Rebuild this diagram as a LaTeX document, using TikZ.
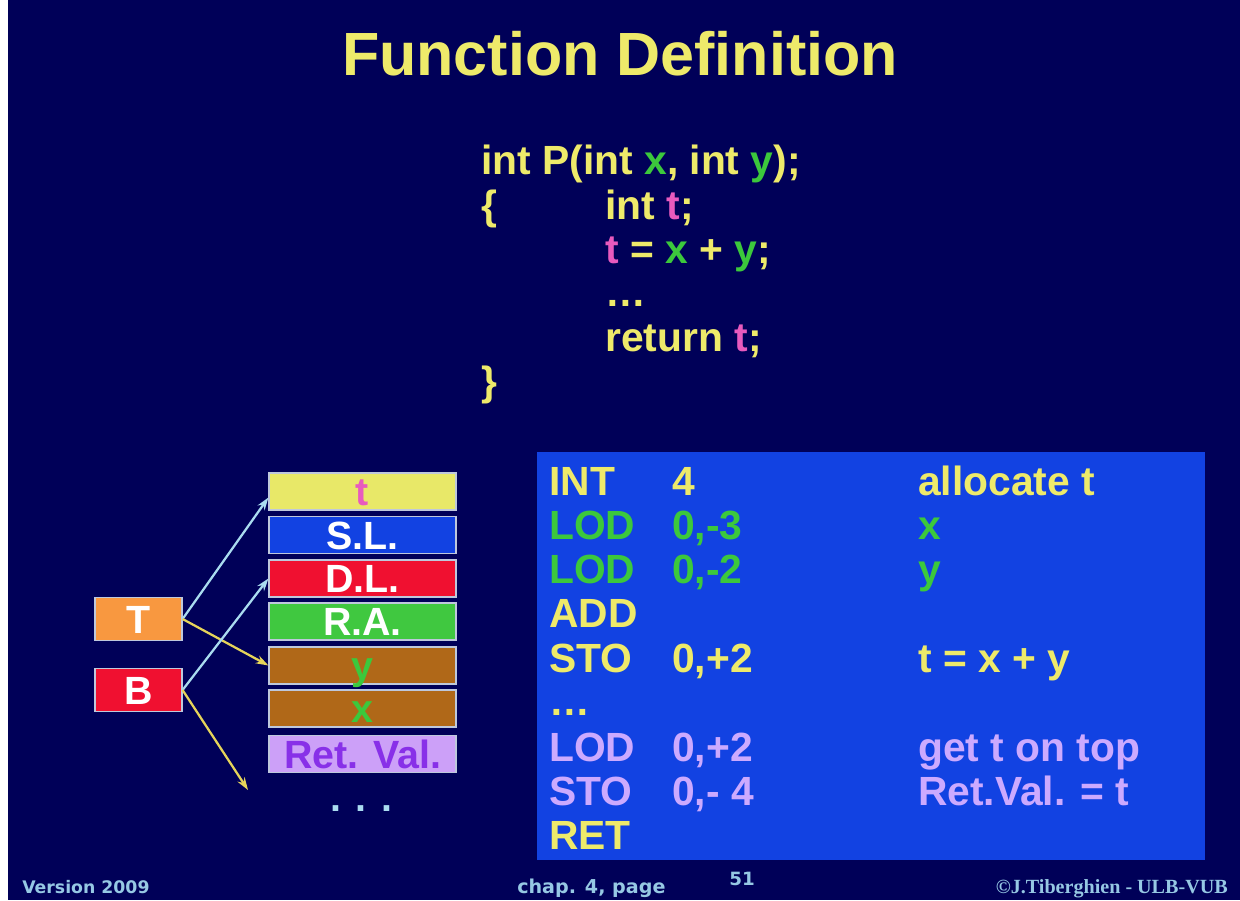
\documentclass[tikz,border=0pt]{standalone}
\usepackage{fontspec}
\setmainfont{Liberation Sans}
\newfontfamily\footsans{DejaVu Sans}
\newfontfamily\footserif{Liberation Serif}
\usetikzlibrary{arrows.meta}

\definecolor{navy}{RGB}{0,0,88}
\definecolor{ytext}{RGB}{238,234,106}
\definecolor{gtext}{RGB}{60,200,60}
\definecolor{ptext}{RGB}{232,90,190}
\definecolor{ltext}{RGB}{204,170,255}
\definecolor{boxblue}{RGB}{18,66,226}
\definecolor{cellyellow}{RGB}{232,232,104}
\definecolor{cellred}{RGB}{240,16,48}
\definecolor{cellgreen}{RGB}{64,200,64}
\definecolor{cellbrown}{RGB}{176,104,24}
\definecolor{celllav}{RGB}{204,160,248}
\definecolor{purpletext}{RGB}{136,48,232}
\definecolor{cellorange}{RGB}{248,152,64}
\definecolor{cellline}{RGB}{190,200,220}
\definecolor{ptrblue}{RGB}{170,220,240}
\definecolor{ptryellow}{RGB}{230,212,90}
\definecolor{foot}{RGB}{150,200,228}

\begin{document}
\begin{tikzpicture}[x=0.025cm,y=-0.025cm,
  code/.style={inner sep=0pt, anchor=base west, text=ytext,
    font=\bfseries\fontsize{29}{34}\selectfont},
  cell/.style={draw=cellline, line width=0.8pt, inner sep=0pt,
    minimum width=4.675cm, minimum height=0.925cm,
    text height=20pt, text depth=0pt,
    font=\bfseries\fontsize{28}{32}\selectfont},
  reg/.style={cell, minimum width=2.175cm, minimum height=1.075cm, text=white},
  ptr/.style={line width=1.6pt, -{Stealth[length=9pt,width=6pt]}},
  foottext/.style={inner sep=0pt, text=foot}
]
\useasboundingbox (0,0) rectangle (1240,900);
\fill[navy] (0,0) rectangle (1240,900);
\fill[white] (0,0) rectangle (8,900);

% title
\node[inner sep=0pt, anchor=base, text=ytext,
  font=\bfseries\fontsize{43.4}{50}\selectfont] (title) at (620,75) {Function Definition};

% C source of the function
\node[code] (c1) at (481,174) {int P(int {\color{gtext}x}, int {\color{gtext}y});};
\node[code] (c2a) at (481,219) {\{};
\node[code] (c2) at (605,219) {int {\color{ptext}t};};
\node[code] (c3) at (605,263) {{\color{ptext}t} = {\color{gtext}x} + {\color{gtext}y};};
\node[code] (c4) at (605,306) {\dots};
\node[code] (c5) at (605,351) {return {\color{ptext}t};};
\node[code] (c6) at (481,395) {\}};

% generated P-code
\fill[boxblue] (537,452) rectangle (1205,860);
\node[code] (i1) at (549,495) {INT};
\node[code] (a1) at (672,495) {4};
\node[code] (m1) at (918,495) {allocate t};
\node[code, text=gtext] (i2) at (549,539) {LOD};
\node[code, text=gtext] (a2) at (672,539) {0,-3};
\node[code, text=gtext] (m2) at (918,539) {x};
\node[code, text=gtext] (i3) at (549,583) {LOD};
\node[code, text=gtext] (a3) at (672,583) {0,-2};
\node[code, text=gtext] (m3) at (918,583) {y};
\node[code] (i4) at (549,627) {ADD};
\node[code] (i5) at (549,672) {STO};
\node[code] (a5) at (672,672) {0,+2};
\node[code] (m5) at (918,672) {t = x + y};
\node[code] (i6) at (549,715) {\dots};
\node[code, text=ltext] (i7) at (549,761) {LOD};
\node[code, text=ltext] (a7) at (672,761) {0,+2};
\node[code, text=ltext] (m7) at (918,761) {get t on top};
\node[code, text=ltext] (i8) at (549,805) {STO};
\node[code, text=ltext] (a8) at (672,805) {0,- 4};
\node[code, text=ltext] (m8) at (918,805) {Ret.Val. = t};
\node[code] (i9) at (549,849) {RET};

% activation record on the stack
\node[cell, fill=cellyellow, text=ptext] (st) at (362.5,491.5) {t};
\node[cell, fill=boxblue, text=white] (ssl) at (362.5,535) {S.L.};
\node[cell, fill=cellred, text=white] (sdl) at (362.5,578.5) {D.L.};
\node[cell, fill=cellgreen, text=white] (sra) at (362.5,621.5) {R.A.};
\node[cell, fill=cellbrown, text=gtext] (sy) at (362.5,665.5) {y};
\node[cell, fill=cellbrown, text=gtext] (sx) at (362.5,708.5) {x};
\node[cell, fill=celllav, text=purpletext] (srv) at (362.5,754) {Ret. Val.};
\node[inner sep=0pt, anchor=base, text=ptrblue,
  font=\bfseries\fontsize{28}{32}\selectfont] (dots) at (361,811) {. . .};

% registers
\node[reg, fill=cellorange] (T) at (138.5,619) {T};
\node[reg, fill=cellred] (B) at (138.5,690) {B};

\coordinate (bend) at (248,790);
\draw[ptr, ptrblue] (T.east) -- ([yshift=-0.15cm]st.west);
\draw[ptr, ptryellow] (T.east) -- (sy.west);
\draw[ptr, ptrblue] (B.east) -- (sdl.west);
\draw[ptr, ptryellow] (B.east) -- (bend);

% footer
\node[foottext, anchor=base west, font=\footsans\bfseries\fontsize{12.3}{14}\selectfont]
  (ver) at (22,893) {Version 2009};
\node[foottext, anchor=base west, font=\footsans\bfseries\fontsize{13.6}{16}\selectfont]
  (chap) at (517,893) {chap. 4, page};
\node[foottext, anchor=base west, font=\footsans\bfseries\fontsize{13}{15}\selectfont]
  (page) at (729,885) {51};
\node[foottext, anchor=base east, font=\footserif\bfseries\fontsize{14.3}{16}\selectfont]
  (copy) at (1228,893) {©J.Tiberghien - ULB-VUB};
\end{tikzpicture}
\end{document}
